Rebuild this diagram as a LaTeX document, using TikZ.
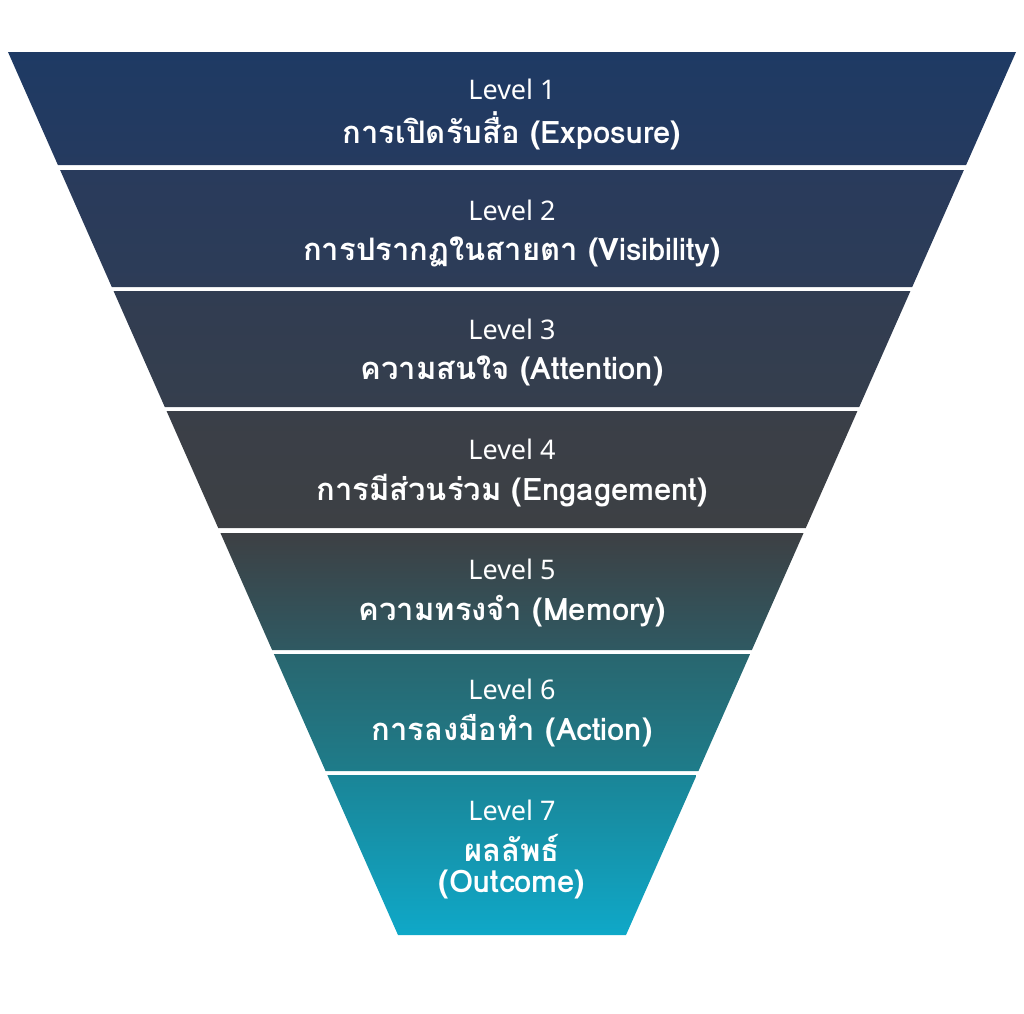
\documentclass[tikz,border=0pt]{standalone}
\usepackage{fontspec}
\setmainfont{Noto Sans}
\newfontfamily\thaifont[Script=Thai]{Loma}
\definecolor{lvA}{RGB}{30,58,100}
\definecolor{lvB}{RGB}{37,58,95}
\definecolor{lvC}{RGB}{41,59,92}
\definecolor{lvD}{RGB}{45,60,87}
\definecolor{lvE}{RGB}{49,61,82}
\definecolor{lvF}{RGB}{53,62,77}
\definecolor{lvG}{RGB}{58,63,72}
\definecolor{lvH}{RGB}{61,64,68}
\definecolor{lvI}{RGB}{61,64,68}
\definecolor{lvJ}{RGB}{47,89,98}
\definecolor{lvK}{RGB}{41,102,111}
\definecolor{lvL}{RGB}{30,124,138}
\definecolor{lvM}{RGB}{26,133,151}
\definecolor{lvN}{RGB}{15,168,200}
\tikzset{
  lvl/.style={text=white,font=\fontsize{27}{30}\selectfont,inner sep=0pt},
  stage/.style={text=white,font=\thaifont\bfseries\fontsize{31}{34}\selectfont,inner sep=0pt}
}
\begin{document}
\begin{tikzpicture}[x=1pt,y=-1pt]
\useasboundingbox (0,0) rectangle (1024,1013);
% funnel bands
\foreach \yt/\yb/\ct/\cb in {52/165/lvA/lvB,170/287/lvC/lvD,291/407/lvE/lvF,411/528/lvG/lvH,533/650/lvI/lvJ,654/771/lvK/lvL,775/935/lvM/lvN}{
  \pgfmathsetmacro{\lt}{8+(\yt-52)/883*390}
  \pgfmathsetmacro{\lb}{8+(\yb-52)/883*390}
  \shade [top color=\ct,bottom color=\cb] (\lt,\yt) -- (1024-\lt,\yt) -- (1024-\lb,\yb) -- (\lb,\yb) -- cycle;
}
% Text Node
\node [lvl] (l1) at (512,89) {Level 1};
\node [stage] (n1) at (512,131) {การเปิดรับสื่อ (Exposure)};
\node [lvl] (l2) at (512,210) {Level 2};
\node [stage] (n2) at (512,252) {การปรากฏในสายตา (Visibility)};
\node [lvl] (l3) at (512,329) {Level 3};
\node [stage] (n3) at (512,371) {ความสนใจ (Attention)};
\node [lvl] (l4) at (512,449) {Level 4};
\node [stage] (n4) at (512,491) {การมีส่วนร่วม (Engagement)};
\node [lvl] (l5) at (512,569) {Level 5};
\node [stage] (n5) at (512,611) {ความทรงจำ (Memory)};
\node [lvl] (l6) at (512,689) {Level 6};
\node [stage] (n6) at (512,731) {การลงมือทำ (Action)};
\node [lvl] (l7) at (512,810) {Level 7};
\node [stage] (n7) at (512,848) {ผลลัพธ์};
\node [stage] (n7b) at (512,884) {(Outcome)};
\end{tikzpicture}
\end{document}
